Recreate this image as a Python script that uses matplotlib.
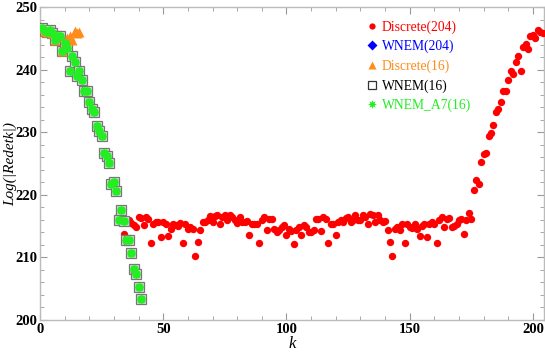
import numpy as np
import matplotlib
matplotlib.use("Agg")
import matplotlib.pyplot as plt
from matplotlib.ticker import MultipleLocator

# WNEM curves (16-point runs), k = 1..41
k_wnem = list(range(1, 42))
v_wnem = [246.6, 246.1, 246.0, 246.3, 245.9, 244.8, 245.3, 245.4, 242.9, 244.2,
          243.4, 239.8, 242.2, 241.2, 238.9, 239.7, 238.3, 236.6, 236.6, 234.9,
          233.7, 233.2, 231.0, 230.2, 229.4, 226.6, 226.2, 225.1, 221.7, 222.1,
          220.6, 216.0, 217.6, 215.8, 212.8, 212.7, 210.7, 208.2, 207.4, 205.2,
          203.3]

# Discrete(16)
k_disc16 = list(range(1, 17))
v_disc16 = [246.6, 246.1, 246.0, 246.3, 245.9, 244.8, 245.3, 245.4, 243.0, 244.3,
            245.0, 245.3, 244.8, 246.1, 245.8, 246.0]

# Discrete(204), k = 1..204
v_disc204_head = v_wnem[:31]
v_disc204_tail = [
    217.0, 216.0, 213.8, 216.0, 215.9, 215.5, 215.2, 214.9, 216.5, 216.3,  # 32-41
    215.2, 216.5, 216.1, 212.3, 215.4, 215.7, 215.6, 213.3, 215.6, 215.3,  # 42-51
    213.4, 214.5, 215.3, 215.1, 215.0, 215.5, 212.3, 215.4, 214.5, 214.8,  # 52-61
    214.6, 210.2, 212.4, 214.3, 215.6, 215.7, 215.9, 216.6, 215.7, 216.6,  # 62-71
    216.8, 215.4, 216.5, 216.7, 216.0, 216.7, 216.4, 216.0, 215.5, 216.5,  # 72-81
    215.7, 215.7, 215.8, 213.6, 215.3, 215.3, 215.3, 212.3, 216.0, 216.4,  # 82-91
    214.3, 216.1, 216.1, 214.5, 214.0, 214.3, 214.9, 215.2, 213.6, 214.6,  # 92-101
    214.2, 212.1, 214.3, 214.8, 213.6, 215.2, 214.9, 214.1, 214.0, 214.4,  # 102-111
    216.1, 216.1, 214.2, 216.4, 216.1, 212.3, 215.3, 215.3, 213.6, 215.7,  # 112-121
    216.0, 215.6, 216.3, 216.5, 215.6, 216.0, 216.7, 216.0, 216.0, 216.8,  # 122-131
    216.5, 215.4, 217.0, 216.7, 215.6, 216.7, 215.9, 215.7, 215.8, 214.3,  # 132-141
    212.4, 210.2, 214.6, 214.8, 214.4, 215.3, 212.3, 215.4, 214.9, 214.7,  # 142-151
    215.3, 214.5, 213.4, 215.0, 215.3, 213.3, 215.4, 215.6, 215.3, 212.3,  # 152-161
    216.0, 216.5, 214.9, 216.2, 216.3, 214.9, 215.0, 215.3, 216.0, 216.1,  # 162-171
    213.8, 215.9, 217.1, 216.1, 220.7, 222.3, 221.7, 225.2, 226.5, 226.7,  # 172-181
    229.4, 229.9, 231.1, 233.2, 233.7, 234.9, 236.6, 236.6, 238.3, 239.7,  # 182-191
    239.3, 241.2, 242.2, 239.8, 243.6, 244.1, 243.3, 245.4, 245.5, 245.0,  # 192-201
    246.3, 246.0, 245.9]                                                   # 202-204
v_disc204 = v_disc204_head + v_disc204_tail
k_disc204 = list(range(1, len(v_disc204) + 1))

serif = "Liberation Serif"
orange = "#FF8C1A"
green = "#22EE22"

fig = plt.figure(figsize=(5.45, 3.52), dpi=100)
ax = fig.add_axes([40 / 545, 1 - 320 / 352, 504 / 545, 313 / 352])

ax.plot(k_disc204, v_disc204, "o", color="#FF0000", ms=5.3, mec="none",
        label="Discrete(204)", zorder=3)
ax.plot(k_wnem, v_wnem, "D", color="#0000FF", ms=5.6, mec="none",
        label="WNEM(204)", zorder=4)
ax.plot(k_disc16, v_disc16, "^", color=orange, ms=6.5, mec="none",
        label="Discrete(16)", zorder=5)
ax.plot(k_wnem, v_wnem, "s", mfc="#DDDDDD", mec="#777777", mew=0.9, ms=7.5,
        label="WNEM(16)", zorder=4.5)
# green blobs: filled octagon body plus spiky star outline
ax.plot(k_wnem, v_wnem, "8", ls="none", color=green, ms=6.2, mec="none",
        zorder=6)
ax.plot(k_wnem, v_wnem, marker=(8, 1, 0), ls="none", color=green, ms=7.5,
        mec="none", label="WNEM_A7(16)", zorder=6)

ax.set_xlim(0, 204.5)
ax.set_ylim(200, 250)
ax.xaxis.set_major_locator(MultipleLocator(50))
ax.xaxis.set_minor_locator(MultipleLocator(10))
ax.yaxis.set_major_locator(MultipleLocator(10))
ax.yaxis.set_minor_locator(MultipleLocator(2))
ax.tick_params(which="both", direction="in", top=True, right=True,
               color="#999999", labelsize=10.5, pad=2)
ax.tick_params(which="major", length=5, width=0.8)
ax.tick_params(which="minor", length=3, width=0.6)
for lab in ax.get_xticklabels() + ax.get_yticklabels():
    lab.set_fontfamily(serif)
    lab.set_fontweight("bold")
for sp in ax.spines.values():
    sp.set_color("#BBBBBB")
    sp.set_linewidth(1.0)

ax.set_xlabel("k", fontfamily=serif, fontstyle="italic", fontsize=12, labelpad=0)
ax.set_ylabel("Log(|Redetk|)", fontfamily=serif, fontstyle="italic", fontsize=11)
ax.yaxis.set_label_coords(-0.046, 0.5)

leg = ax.legend(loc="upper left", bbox_to_anchor=(0.64, 0.975), frameon=False,
                prop={"family": serif, "size": 9.8}, handlelength=0.6,
                handletextpad=0.4, labelspacing=0.45, borderaxespad=0,
                markerscale=0.85,
                labelcolor=["#FF0000", "#0000FF", orange, "black", green])
leg.legend_handles[3].set_markerfacecolor("white")
leg.legend_handles[3].set_markeredgecolor("#333333")

fig.savefig("out.png", dpi=100)
